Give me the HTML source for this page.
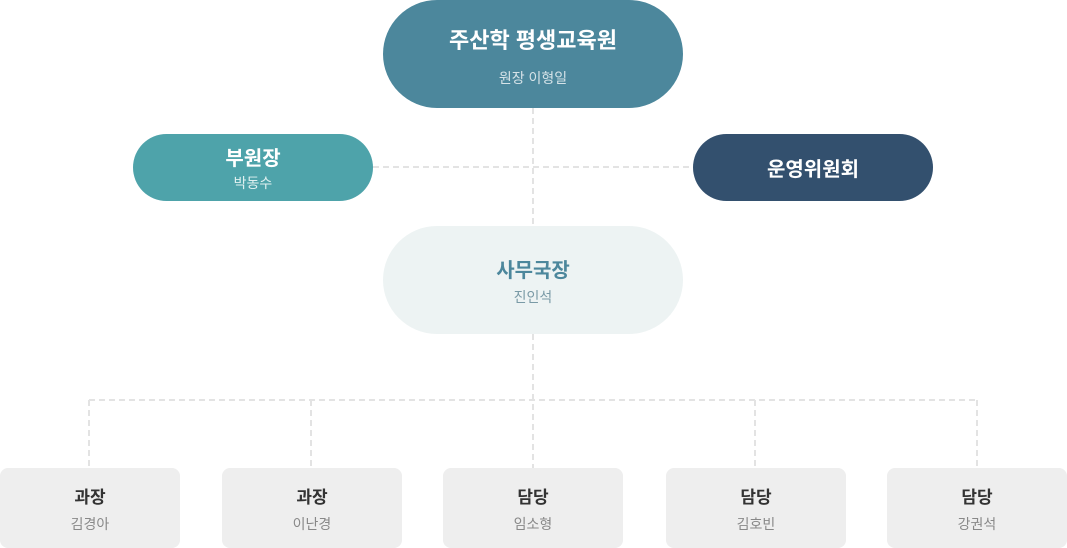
<!DOCTYPE html>
<html><head><meta charset="utf-8"><style>
body{margin:0;width:1067px;height:548px;background:#fff;position:relative;overflow:hidden;font-family:"Liberation Sans","Noto Sans CJK KR",sans-serif}
.n{position:absolute;display:flex;flex-direction:column;align-items:center;justify-content:center;text-align:center}
.t{font-weight:bold}
svg{position:absolute;left:0;top:0}
</style></head><body>
<svg width="1067" height="548"><g stroke="#e3e3e3" stroke-width="2" stroke-dasharray="6,4" fill="none">
<line x1="533" y1="108" x2="533" y2="226"/>
<line x1="373" y1="167" x2="693" y2="167"/>
<line x1="533" y1="334" x2="533" y2="468"/>
<line x1="89" y1="400" x2="977" y2="400"/>
<line x1="89" y1="400" x2="89" y2="468"/>
<line x1="311" y1="400" x2="311" y2="468"/>
<line x1="755" y1="400" x2="755" y2="468"/>
<line x1="977" y1="400" x2="977" y2="468"/>
</g></svg>
<div class="n" style="left:383px;top:0;width:300px;height:108px;border-radius:54px;background:#4c879c;color:#fff"><div class="t" style="font-size:22px;margin-top:2px">주산학 평생교육원</div><div style="font-size:14px;color:#d6e3e8;margin-top:13px">원장 이형일</div></div>
<div class="n" style="left:133px;top:134px;width:240px;height:67px;border-radius:34px;background:#4ea3aa;color:#fff"><div class="t" style="font-size:20px">부원장</div><div style="font-size:14px;color:#e0f0f0;margin-top:2px">박동수</div></div>
<div class="n" style="left:693px;top:134px;width:240px;height:67px;border-radius:34px;background:#33506e;color:#fff"><div class="t" style="font-size:20px">운영위원회</div></div>
<div class="n" style="left:383px;top:226px;width:300px;height:108px;border-radius:54px;background:#edf3f3"><div class="t" style="font-size:20px;color:#4c879c">사무국장</div><div style="font-size:14px;color:#7a9aa6;margin-top:4px">진인석</div></div>
<div class="n" style="left:0;top:468px;width:180px;height:80px;border-radius:8px;background:#eeeeee"><div class="t" style="font-size:17px;color:#333">과장</div><div style="font-size:14px;color:#888;margin-top:6px">김경아</div></div>
<div class="n" style="left:222px;top:468px;width:180px;height:80px;border-radius:8px;background:#eeeeee"><div class="t" style="font-size:17px;color:#333">과장</div><div style="font-size:14px;color:#888;margin-top:6px">이난경</div></div>
<div class="n" style="left:443px;top:468px;width:180px;height:80px;border-radius:8px;background:#eeeeee"><div class="t" style="font-size:17px;color:#333">담당</div><div style="font-size:14px;color:#888;margin-top:6px">임소형</div></div>
<div class="n" style="left:666px;top:468px;width:180px;height:80px;border-radius:8px;background:#eeeeee"><div class="t" style="font-size:17px;color:#333">담당</div><div style="font-size:14px;color:#888;margin-top:6px">김호빈</div></div>
<div class="n" style="left:887px;top:468px;width:180px;height:80px;border-radius:8px;background:#eeeeee"><div class="t" style="font-size:17px;color:#333">담당</div><div style="font-size:14px;color:#888;margin-top:6px">강권석</div></div>
</body></html>
